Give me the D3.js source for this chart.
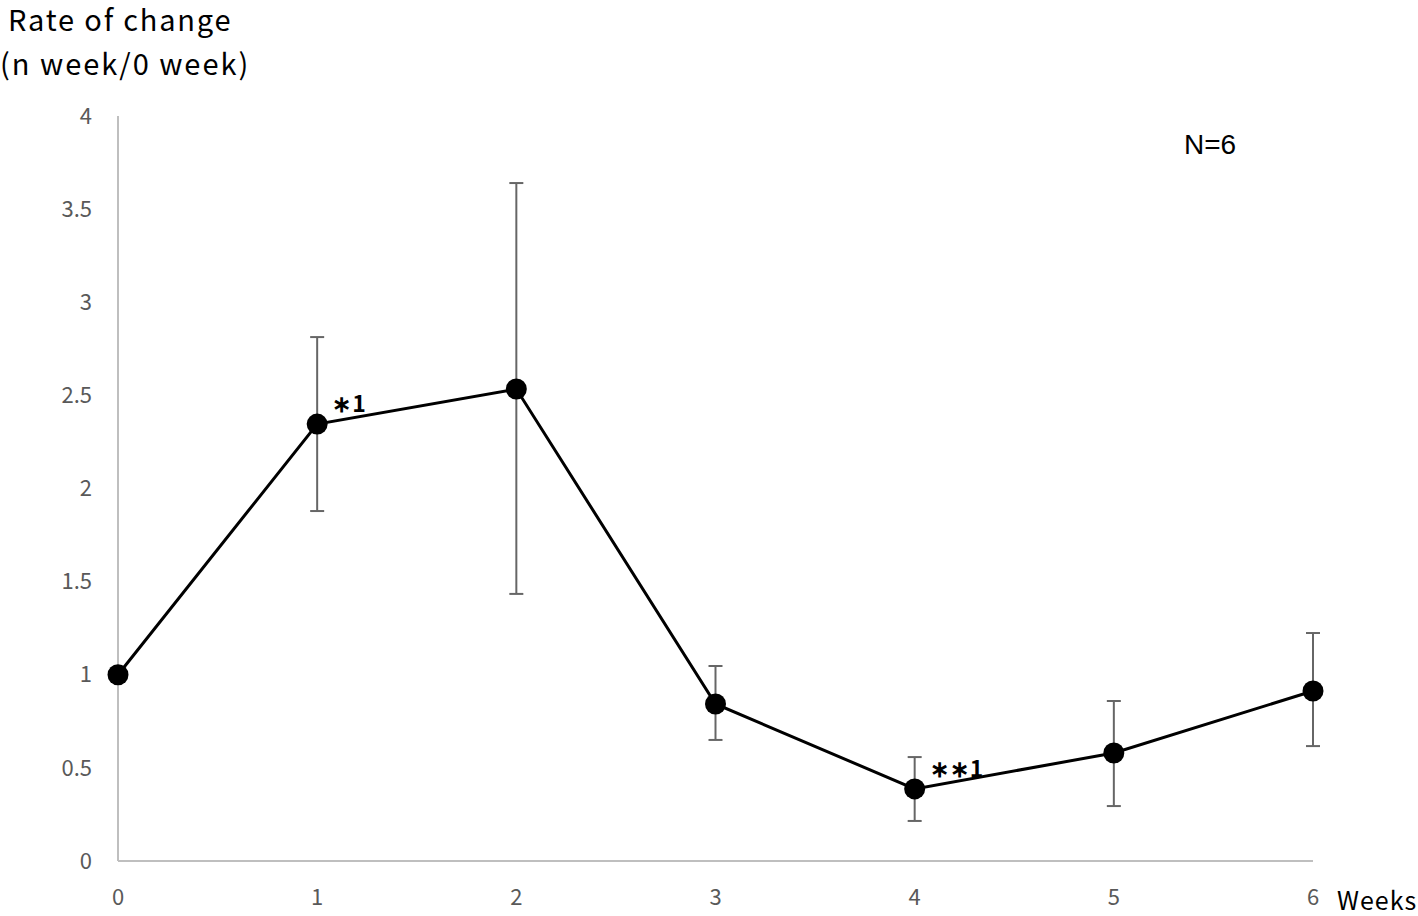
<!DOCTYPE html>
<html><head><meta charset="utf-8">
<script src="https://cdn.jsdelivr.net/npm/d3@7"></script>
<style>body{margin:0;background:#fff}svg{display:block}</style>
</head><body>
<svg id="c" width="1418" height="916"></svg>
<script>
const weeks = [0, 1, 2, 3, 4, 5, 6];
const means = [1, 2.346, 2.534, 0.843, 0.387, 0.580, 0.913];
const upper = [null, 2.813, 3.640, 1.047, 0.558, 0.859, 1.224];
const lower = [null, 1.879, 1.434, 0.650, 0.215, 0.295, 0.617];
const yTicks = [0, 0.5, 1, 1.5, 2, 2.5, 3, 3.5, 4];
const annotations = [{week: 1, text: "\u2217" + "1"}, {week: 4, text: "\u2217\u2217" + "1"}];

const svg = d3.select("#c");
const x = d3.scaleLinear().domain([0, 6]).range([118, 1313]);
const y = d3.scaleLinear().domain([0, 4]).range([861, 116]);
const font = "'Noto Sans CJK JP','Noto Sans',sans-serif";

// axes lines
svg.append("line").attr("x1", x(0)).attr("x2", x(0)).attr("y1", y(4)).attr("y2", y(0))
  .attr("stroke", "#bfbfbf").attr("stroke-width", 2);
svg.append("line").attr("x1", x(0)).attr("x2", x(6)).attr("y1", y(0)).attr("y2", y(0))
  .attr("stroke", "#bfbfbf").attr("stroke-width", 2);

// y tick labels
svg.selectAll(".yt").data(yTicks).enter().append("text")
  .attr("x", 92).attr("y", d => y(d)).attr("dy", "0.35em")
  .attr("text-anchor", "end").attr("font-family", font).attr("font-size", 22)
  .attr("fill", "#595959").text(d => d);

// x tick labels
svg.selectAll(".xt").data(weeks).enter().append("text")
  .attr("x", d => x(d)).attr("y", 905)
  .attr("text-anchor", "middle").attr("font-family", font).attr("font-size", 22)
  .attr("fill", "#595959").text(d => d);

svg.append("text").attr("x", 1337).attr("y", 910).attr("font-family", font)
  .attr("font-size", 25).attr("letter-spacing", 1).attr("fill", "#000").text("Weeks");

// y title
svg.append("text").attr("x", 8).attr("y", 31).attr("font-family", font)
  .attr("font-size", 29).attr("letter-spacing", 1.8).attr("fill", "#000").text("Rate of change");
svg.append("text").attr("x", 0).attr("y", 75).attr("font-family", font)
  .attr("font-size", 29).attr("letter-spacing", 2).attr("fill", "#000").text("(n week/0 week)");

svg.append("text").attr("x", 1210).attr("y", 154).attr("text-anchor", "middle")
  .attr("font-family", "'Liberation Sans',Arial,sans-serif").attr("font-size", 28)
  .attr("fill", "#000").text("N=6");

// error bars
const eb = weeks.map((w, i) => ({w, u: upper[i], l: lower[i]})).filter(d => d.u != null);
const g = svg.append("g").attr("stroke", "#666").attr("stroke-width", 2);
eb.forEach(d => {
  g.append("line").attr("x1", x(d.w)).attr("x2", x(d.w)).attr("y1", y(d.u)).attr("y2", y(d.l));
  g.append("line").attr("x1", x(d.w) - 7).attr("x2", x(d.w) + 7).attr("y1", y(d.u)).attr("y2", y(d.u));
  g.append("line").attr("x1", x(d.w) - 7).attr("x2", x(d.w) + 7).attr("y1", y(d.l)).attr("y2", y(d.l));
});

// line
const line = d3.line().x((d, i) => x(weeks[i])).y(d => y(d));
svg.append("path").datum(means).attr("d", line).attr("fill", "none")
  .attr("stroke", "#000").attr("stroke-width", 3);

svg.selectAll(".pt").data(means).enter().append("circle")
  .attr("cx", (d, i) => x(weeks[i])).attr("cy", d => y(d)).attr("r", 10.5).attr("fill", "#000");

// annotations
annotations.forEach(a => {
  const i = weeks.indexOf(a.week);
  svg.append("text").attr("x", x(a.week) + 15).attr("y", y(means[i]) - 12)
    .attr("font-family", font).attr("font-size", 23).attr("font-weight", "bold")
    .attr("letter-spacing", 1).attr("fill", "#000").text(a.text);
});
</script>
</body></html>
